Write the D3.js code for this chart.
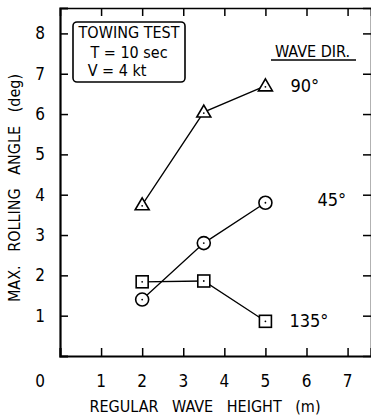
<!DOCTYPE html>
<html>
<head>
<meta charset="utf-8">
<script src="https://cdn.jsdelivr.net/npm/d3@7"></script>
<style>
  body { margin: 0; background: #fff; }
  text { font-family: "DejaVu Sans Condensed", "DejaVu Sans", sans-serif; font-stretch: condensed; fill: #000; }
</style>
</head>
<body>
<div id="chart"></div>
<script>
// data
const waveHeight = [2, 3.5, 5];
const roll90 = [3.75, 6.05, 6.7];
const roll45 = [1.4, 2.8, 3.8];
const roll135 = [1.84, 1.86, 0.86];
const xTicks = [1, 2, 3, 4, 5, 6, 7];
const yTicks = [1, 2, 3, 4, 5, 6, 7, 8];
const seriesNames = ["90°", "45°", "135°"];

const W = 371, H = 416;
const margin = { top: 8, right: 0, bottom: 60, left: 60 };
const width = W - margin.left - margin.right;
const height = H - margin.top - margin.bottom;

const svg = d3.select("#chart")
  .append("svg")
    .attr("width", W)
    .attr("height", H);

const g = svg.append("g")
    .attr("transform", `translate(${margin.left},${margin.top})`);

const x = d3.scaleLinear().domain([0, 7.57]).range([0, width]);
const y = d3.scaleLinear().domain([0, 8.63]).range([height, 0]);

// frame ticks on all four sides, pointing inward
g.append("g")
  .attr("transform", `translate(0,${height})`)
  .call(d3.axisTop(x).tickValues(xTicks).tickSize(8).tickFormat(""))
  .call(a => a.select(".domain").attr("stroke-width", 2.2));
g.append("g")
  .call(d3.axisBottom(x).tickValues(xTicks).tickSize(8).tickFormat(""))
  .call(a => a.select(".domain").attr("stroke-width", 1.6));
g.append("g")
  .call(d3.axisRight(y).tickValues(yTicks).tickSize(8).tickFormat(""))
  .call(a => a.select(".domain").attr("stroke-width", 2.2));
g.append("g")
  .attr("transform", `translate(${width},0)`)
  .call(d3.axisLeft(y).tickValues(yTicks).tickSize(8).tickFormat(""))
  .call(a => a.select(".domain").attr("stroke-width", 1.6));
g.selectAll(".tick line").attr("stroke-width", 1.5);

// tick labels
g.selectAll(".xlab")
  .data(xTicks)
  .enter().append("text")
    .attr("x", d => x(d))
    .attr("y", height + 31)
    .attr("text-anchor", "middle")
    .style("font-size", "17px")
    .text(d => d);
g.append("text")
  .attr("x", -20)
  .attr("y", height + 31)
  .attr("text-anchor", "middle")
  .style("font-size", "17px")
  .text("0");
g.selectAll(".ylab")
  .data(yTicks)
  .enter().append("text")
    .attr("x", -15)
    .attr("y", d => y(d) + 6)
    .attr("text-anchor", "end")
    .style("font-size", "17px")
    .text(d => d);

// axis titles
svg.append("text")
  .attr("x", 205)
  .attr("y", 412)
  .attr("text-anchor", "middle")
  .style("font-size", "16px")
  .style("word-spacing", "9px")
  .text("REGULAR WAVE HEIGHT (m)");
svg.append("text")
  .attr("transform", "translate(20,188) rotate(-90)")
  .attr("text-anchor", "middle")
  .style("font-size", "16px")
  .style("word-spacing", "9px")
  .text("MAX. ROLLING ANGLE (deg)");

// series
const line = d3.line().x(d => x(d[0])).y(d => y(d[1]));
const series = [
  { name: seriesNames[0], vals: roll90, shape: "tri" },
  { name: seriesNames[1], vals: roll45, shape: "circ" },
  { name: seriesNames[2], vals: roll135, shape: "sq" }
];

series.forEach(s => {
  const pts = waveHeight.map((h, i) => [h, s.vals[i]]);
  g.append("path")
    .datum(pts)
    .attr("d", line)
    .attr("fill", "none")
    .attr("stroke", "#000")
    .attr("stroke-width", 1.3);

  const m = g.selectAll(null)
    .data(pts)
    .enter().append("g")
      .attr("transform", d => `translate(${x(d[0])},${y(d[1])})`);
  if (s.shape === "tri") {
    m.append("path").attr("d", "M0,-7L7,5L-7,5Z");
  } else if (s.shape === "circ") {
    m.append("circle").attr("r", 6.5);
  } else {
    m.append("rect").attr("x", -6).attr("y", -6).attr("width", 12).attr("height", 12);
  }
  m.selectAll("path,circle,rect")
    .attr("fill", "#fff")
    .attr("stroke", "#000")
    .attr("stroke-width", 1.6);
  m.append("circle").attr("r", 0.9).attr("fill", "#000")
    .attr("cy", s.shape === "tri" ? 1 : 0);
});

// series labels
const lastH = waveHeight[waveHeight.length - 1];
g.append("text").attr("x", x(lastH) + 25).attr("y", y(roll90[2]) + 6)
  .style("font-size", "18px").text(seriesNames[0]);
g.append("text").attr("x", x(lastH) + 52).attr("y", y(roll45[2]) + 3)
  .style("font-size", "18px").text(seriesNames[1]);
g.append("text").attr("x", x(lastH) + 24).attr("y", y(roll135[2]) + 6)
  .style("font-size", "18px").text(seriesNames[2]);

// legend heading
g.append("text").attr("x", 215).attr("y", 49)
  .style("font-size", "16px").text("WAVE DIR.");
g.append("line").attr("x1", 211).attr("x2", 296).attr("y1", 52).attr("y2", 52)
  .attr("stroke", "#000").attr("stroke-width", 1.3);

// info box
svg.append("rect")
  .attr("x", 73).attr("y", 22).attr("width", 112).attr("height", 60)
  .attr("rx", 4)
  .attr("fill", "#fff").attr("stroke", "#000").attr("stroke-width", 1.6);
const boxLines = ["TOWING TEST", "T = 10 sec", "V = 4  kt"];
svg.selectAll(".box")
  .data(boxLines)
  .enter().append("text")
    .attr("x", (d, i) => i === 2 ? 117 : 129)
    .attr("y", (d, i) => [38, 58, 76][i])
    .attr("text-anchor", "middle")
    .style("font-size", "16px")
    .text(d => d);
</script>
</body>
</html>
